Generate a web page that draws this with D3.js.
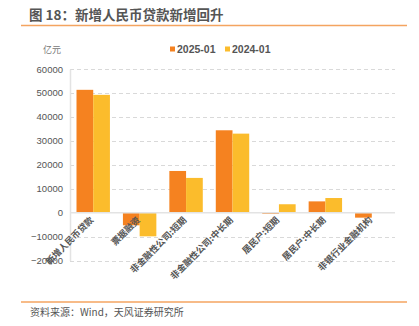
<!DOCTYPE html>
<html><head><meta charset="utf-8">
<script src="https://cdn.jsdelivr.net/npm/d3@7"></script>
<style>body{margin:0;background:#fff}svg{display:block}</style>
</head><body>
<script>
const categories = ["新增人民币贷款","票据融资","非金融性公司:短期","非金融性公司:中长期","居民户:短期","居民户:中长期","非银行业金融机构"];
const series2025 = [51300,-5300,17400,34400,-500,4700,-2100];
const series2024 = [49200,-9900,14500,33000,3500,6100,0];
const seriesNames = ["2025-01","2024-01"];
const yTicks = [-20000,-10000,0,10000,20000,30000,40000,50000,60000];
const colors = ["#F58220","#FBBC2C"];

const W=419,H=326;
const svg=d3.select("body").append("svg").attr("width",W).attr("height",H);
const font="'Noto Sans CJK SC','Noto Sans',sans-serif";

svg.append("text").attr("x",29).attr("y",20).attr("font-family",font).attr("font-size",13.5).attr("font-weight","bold").attr("fill","#555").text("图 18：新增人民币贷款新增回升");
svg.append("line").attr("x1",21).attr("x2",407).attr("y1",25.5).attr("y2",25.5).attr("stroke","#F4A460").attr("stroke-width",1.5);
svg.append("line").attr("x1",21).attr("x2",407).attr("y1",302).attr("y2",302).attr("stroke","#F4A460").attr("stroke-width",1.5);
svg.append("text").attr("x",30).attr("y",316).attr("font-family",font).attr("font-size",10).attr("fill","#555").text("资料来源：Wind，天风证券研究所");

svg.append("text").attr("x",43).attr("y",53).attr("font-family",font).attr("font-size",9).attr("fill","#777").text("亿元");

const legX=[170,225];
seriesNames.forEach((n,i)=>{
  svg.append("rect").attr("x",legX[i]).attr("y",46.5).attr("width",5).attr("height",5).attr("fill",colors[i]);
  svg.append("text").attr("x",legX[i]+7).attr("y",52.5).attr("font-family","'Liberation Sans',Arial,sans-serif").attr("font-size",10.5).attr("font-weight","bold").attr("fill","#555").text(n);
});

const y=d3.scaleLinear().domain([-20000,60000]).range([260.5,69]);
const x=d3.scaleBand().domain(categories).range([70,395]).paddingInner(0.28).paddingOuter(0.14);
const xs=d3.scaleBand().domain(seriesNames).range([0,x.bandwidth()]);

svg.append("g").selectAll("line").data(yTicks.filter(d=>d!==0)).join("line")
  .attr("x1",70).attr("x2",395).attr("y1",d=>Math.round(y(d))+0.5).attr("y2",d=>Math.round(y(d))+0.5)
  .attr("stroke","#d9d9d9").attr("stroke-dasharray","4,3").attr("stroke-width",1);

const ya=svg.append("g").attr("transform","translate(70,0)").call(d3.axisLeft(y).tickValues(yTicks).tickSize(0).tickPadding(7).tickFormat(d3.format("d")));
ya.select(".domain").attr("stroke","#e3e3e3").attr("stroke-width",1.5);
ya.selectAll("text").attr("font-family","'Liberation Sans',Arial,sans-serif").attr("font-size",9.5).attr("fill","#555");

const data=[series2025,series2024];
data.forEach((vals,si)=>{
  svg.append("g").selectAll("rect").data(vals).join("rect")
    .attr("x",(d,i)=>x(categories[i])+xs(seriesNames[si]))
    .attr("width",xs.bandwidth())
    .attr("y",d=>y(Math.max(0,d)))
    .attr("height",d=>Math.abs(y(d)-y(0)))
    .attr("fill",colors[si]);
});

svg.append("line").attr("x1",70).attr("x2",395).attr("y1",y(0)).attr("y2",y(0)).attr("stroke","#e3e3e3").attr("stroke-width",1.5);

svg.append("g").selectAll("text").data(categories).join("text")
  .attr("transform",d=>`translate(${x(d)+x.bandwidth()/2+1},${y(0)+8}) rotate(-45)`)
  .attr("text-anchor","end").attr("font-family",font).attr("font-size",9).attr("font-weight","bold").attr("fill","#555").text(d=>d);
</script>
</body></html>
